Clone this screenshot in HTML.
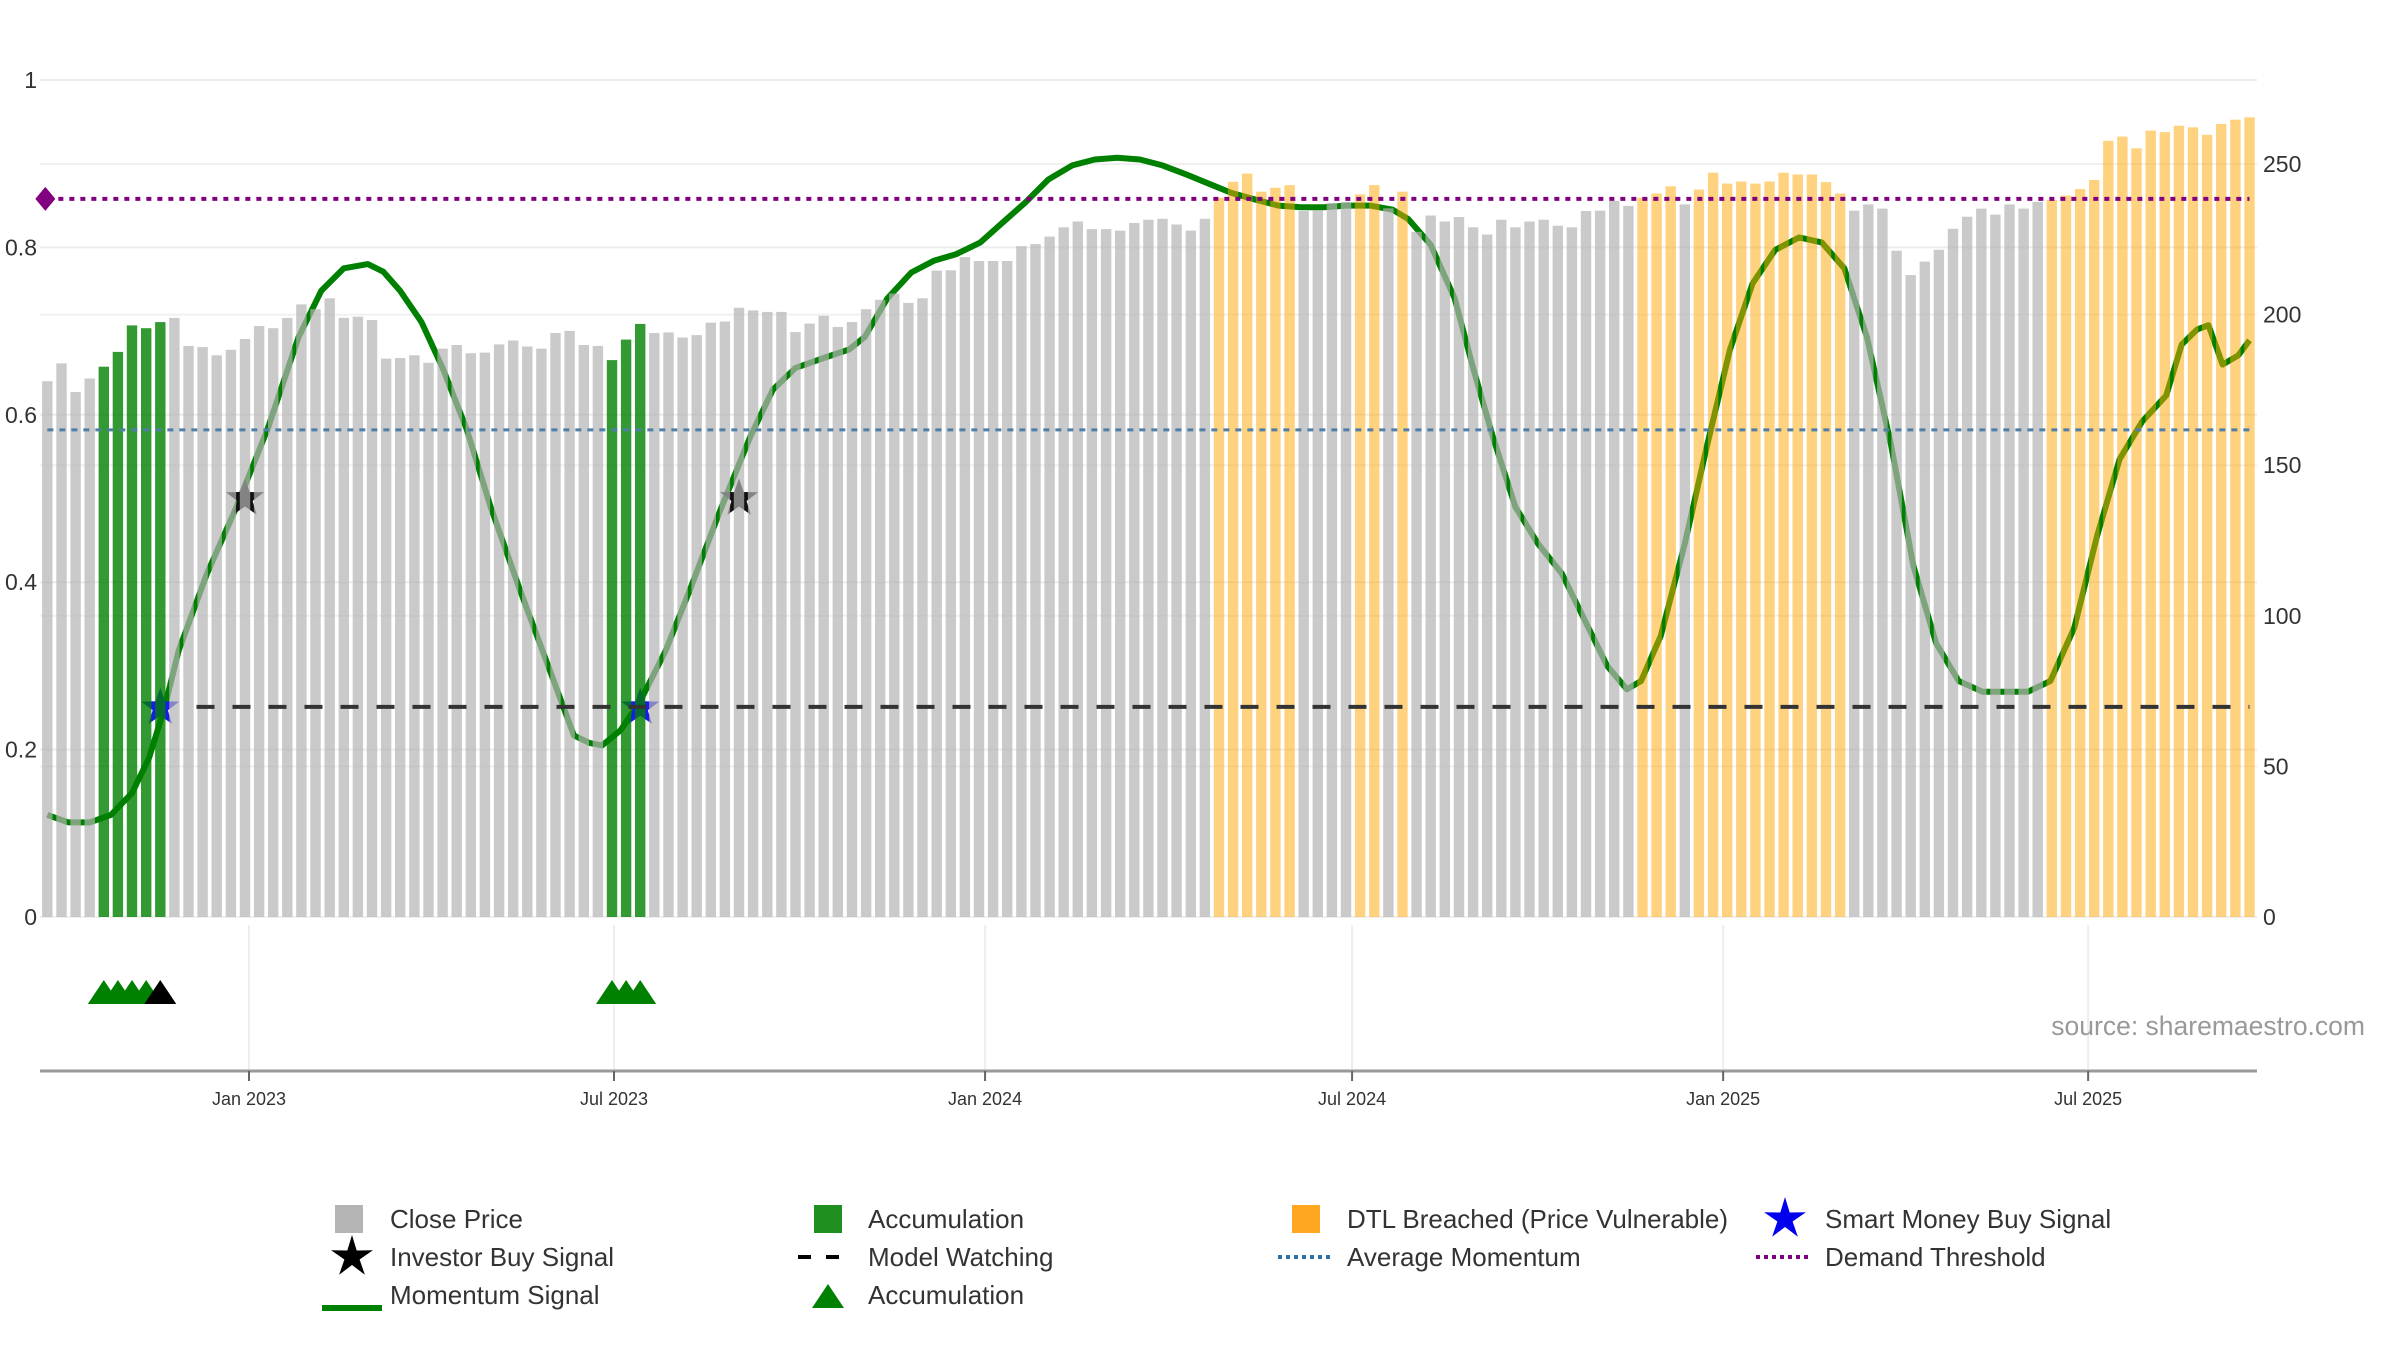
<!DOCTYPE html>
<html><head><meta charset="utf-8"><style>
html,body{margin:0;padding:0;background:#fff;}
svg{display:block;font-family:"Liberation Sans","DejaVu Sans",sans-serif;}
</style></head><body>
<svg id="chart" xmlns="http://www.w3.org/2000/svg" width="2400" height="1350" viewBox="0 0 2400 1350">
<g id="grid"></g>
<g id="lines"></g>
<g id="bars"></g>
<g id="refs"></g>
<g id="axes"></g>
<text x="2365" y="1035" text-anchor="end" font-size="26.5" fill="#999">source: sharemaestro.com</text>
<g id="legend" font-size="26" fill="#333">
  <g><rect x="335" y="1205" width="28" height="28" fill="#b4b4b4"/><text x="390" y="1228">Close Price</text></g>
  <g><rect x="814" y="1205" width="28" height="28" fill="#1f8f1f"/><text x="868" y="1228">Accumulation</text></g>
  <g><rect x="1292" y="1205" width="28" height="28" fill="#ffa81f"/><text x="1347" y="1228">DTL Breached (Price Vulnerable)</text></g>
  <g><polygon id="lgStarB" fill="#0000ee" points=""/><text x="1825" y="1228">Smart Money Buy Signal</text></g>
  <g><polygon id="lgStarK" fill="#000" points=""/><text x="390" y="1266">Investor Buy Signal</text></g>
  <g><line x1="798" y1="1257" x2="852" y2="1257" stroke="#000" stroke-width="4" stroke-dasharray="13,15"/><text x="868" y="1266">Model Watching</text></g>
  <g><line x1="1278" y1="1257" x2="1334" y2="1257" stroke="#2f6fa8" stroke-width="4" stroke-dasharray="4,4"/><text x="1347" y="1266">Average Momentum</text></g>
  <g><line x1="1756" y1="1257" x2="1810" y2="1257" stroke="#800080" stroke-width="4" stroke-dasharray="4,4"/><text x="1825" y="1266">Demand Threshold</text></g>
  <g><line x1="322" y1="1308" x2="382" y2="1308" stroke="#008000" stroke-width="6"/><text x="390" y="1304">Momentum Signal</text></g>
  <g><polygon points="828,1284 812,1308 844,1308" fill="#008000"/><text x="868" y="1304">Accumulation</text></g>
</g>
</svg>
<script>
// ---- data ----
const prices = [177.9,183.8,174.3,178.8,182.7,187.6,196.4,195.5,197.5,198.9,189.6,189.2,186.5,188.3,191.9,196.2,195.5,198.9,203.4,201.8,205.4,198.9,199.3,198.2,185.4,185.6,186.5,184.0,188.7,189.9,187.2,187.4,190.1,191.4,189.4,188.7,193.9,194.6,189.9,189.6,184.9,191.7,196.9,193.9,194.1,192.4,193.2,197.3,197.7,202.3,201.4,200.9,200.9,194.2,
197.0,199.6,195.9,197.5,201.8,204.9,207.0,203.9,205.4,214.6,214.7,219.1,217.8,217.8,217.8,222.7,223.4,225.9,229.0,230.9,228.4,228.4,227.9,230.4,231.5,231.8,229.9,227.9,231.8,238.8,244.1,246.8,240.8,242.1,243.0,234.4,234.7,237.1,237.4,239.9,243.0,235.3,240.8,227.5,232.9,230.9,232.4,229.0,226.6,231.5,229.0,230.9,231.5,229.5,229.0,234.4,
234.5,237.7,236.1,238.8,240.2,242.6,236.6,241.5,247.1,243.5,244.2,243.5,244.2,247.1,246.5,246.5,244.0,240.2,234.5,236.6,235.2,221.2,213.1,217.6,221.5,228.5,232.5,235.2,233.2,236.6,235.2,237.4,238.1,239.5,241.7,244.7,257.7,259.1,255.2,261.1,260.6,262.7,262.2,259.7,263.3,264.7,265.5];
const accumulationBars = [4,5,6,7,8,40,41,42];
const dtlBars = [83,84,85,86,87,88,93,94,96,113,114,115,117,118,119,120,121,122,123,124,125,126,127,142,143,144,145,146,147,148,149,150,151,152,153,154,155,156];
const momentumIdx = [0,1.5,3,4.5,6,7.2,8.3,9.3,11.3,13.4,15.6,17.8,19.4,21,22.7,23.8,25,26.5,28,29.7,31.4,33.5,35.7,37.3,38.4,39.3,40.6,42,43.8,45.5,47.6,49.8,51.4,53,55.2,56.8,57.9,59.5,61.2,62.8,64.4,66.1,67.7,69.3,70.9,72.6,74.2,75.8,77.4,79,80.7,82.3,83.9,85.6,87.2,88.8,90.4,92,93.7,95.3,96.4,98,99.7,101,102.4,104,105.6,107.3,108.9,110.5,111.9,112.9,114.3,116,117.6,119.2,120.8,122.4,124.1,125.7,127.3,128.9,130.6,132.2,133.8,135.4,137.1,138.7,140.3,141.9,143.6,145.2,146.8,148.4,150.1,151.2,152.3,153.1,154.1,155.2,156];
const momentumVal = [0.122,0.113,0.113,0.122,0.148,0.19,0.25,0.318,0.41,0.49,0.583,0.693,0.748,0.775,0.78,0.771,0.748,0.711,0.656,0.583,0.49,0.39,0.29,0.217,0.208,0.205,0.223,0.258,0.318,0.39,0.483,0.574,0.63,0.656,0.669,0.678,0.693,0.739,0.77,0.784,0.792,0.806,0.83,0.854,0.881,0.898,0.905,0.907,0.905,0.898,0.887,0.876,0.865,0.857,0.85,0.848,0.848,0.85,0.85,0.845,0.834,0.803,0.739,0.656,0.574,0.49,0.446,0.41,0.355,0.3,0.272,0.282,0.336,0.446,0.565,0.678,0.757,0.797,0.812,0.806,0.775,0.693,0.565,0.419,0.327,0.282,0.269,0.269,0.269,0.282,0.346,0.455,0.547,0.592,0.623,0.684,0.702,0.707,0.66,0.671,0.689];
const investorBuyIdx = [14,49];
const investorBuyVal = [0.5,0.5];
const smartMoneyIdx = [8,42];
const smartMoneyVal = [0.25,0.25];
const accMarkerIdx = [4,5,6,7,40,41,42];
const blackMarkerIdx = [8];
const demandThreshold = 0.858;
const averageMomentum = 0.582;
const modelWatching = 0.251;
const leftTicks = [0,0.2,0.4,0.6,0.8,1];
const leftTickLabels = ["0","0.2","0.4","0.6","0.8","1"];
const rightTicks = [0,50,100,150,200,250];
const dateTickLabels = ["Jan 2023","Jul 2023","Jan 2024","Jul 2024","Jan 2025","Jul 2025"];
const dateTickDays = [0,181,365,547,731,912];

// ---- scales ----
const NS = "http://www.w3.org/2000/svg";
const X0 = 249, PXDAY = 2.0166, FIRST_DAY = -100;
const plotL = 40, plotR = 2257, yBase = 917;
function xDay(d){ return X0 + d*PXDAY; }
function xBar(i){ return xDay(FIRST_DAY + 7*i); }
function yL(v){ return yBase - v*837; }
function yR(p){ return yBase - p*3.012; }
function mk(tag, attrs, parent){ const e=document.createElementNS(NS,tag); for(const k in attrs) e.setAttribute(k,attrs[k]); parent.appendChild(e); return e; }
function starPts(cx,cy,R,r){ let p=[]; for(let k=0;k<10;k++){ const a=-Math.PI/2+k*Math.PI/5; const rr=k%2?r:R; p.push((cx+rr*Math.cos(a)).toFixed(1)+","+(cy+rr*Math.sin(a)).toFixed(1)); } return p.join(" "); }

const grid=document.getElementById('grid'), lines=document.getElementById('lines'), bars=document.getElementById('bars'), refs=document.getElementById('refs'), axes=document.getElementById('axes');

leftTicks.forEach(v=>{ const g=mk('line',{x1:plotL,x2:plotR,y1:yL(v),y2:yL(v),stroke:'#ececec','stroke-width':2},grid);

 });
rightTicks.forEach(p=>{ const g=mk('line',{x1:plotL,x2:plotR,y1:yR(p),y2:yR(p),stroke:'#f0f0f0','stroke-width':2},grid);

 });
dateTickDays.forEach(d=>{ const g=mk('line',{x1:xDay(d),x2:xDay(d),y1:925,y2:1071,stroke:'#eeeeee','stroke-width':2},grid);

 });

const mp = momentumIdx.map((t,k)=>xBar(t).toFixed(1)+","+yL(momentumVal[k]).toFixed(1)).join(" ");
const ml = mk('polyline',{points:mp,fill:'none',stroke:'#008000','stroke-width':6,'stroke-linejoin':'round'},lines);



investorBuyIdx.forEach((t,k)=>{ const s=mk('polygon',{points:starPts(xBar(t),yL(investorBuyVal[k]),20,8),fill:'#111'},lines);

 });
smartMoneyIdx.forEach((t,k)=>{ const s=mk('polygon',{points:starPts(xBar(t),yL(smartMoneyVal[k]),20,8),fill:'#1a1aee'},lines);

 });

prices.forEach((p,i)=>{
  let fill='#b4b4b4', op=0.7;
  if(accumulationBars.includes(i)){ fill='#008000'; op=0.8; }
  else if(dtlBars.includes(i)){ fill='#ffa500'; op=0.5; }
  const b=mk('rect',{x:(xBar(i)-5.2).toFixed(1),y:yR(p).toFixed(1),width:10.4,height:(yBase-yR(p)).toFixed(1),fill:fill,'fill-opacity':op},bars);
  
  
});

const xs=xBar(0)-16, xe=xBar(prices.length-1);
const dl=mk('line',{x1:xs+16,x2:xe,y1:yL(demandThreshold),y2:yL(demandThreshold),stroke:'#800080','stroke-width':4,'stroke-dasharray':'5,6'},refs);


const dm=mk('polygon',{points:`${xs+4},${yL(demandThreshold)} ${xs+14},${yL(demandThreshold)-12} ${xs+24},${yL(demandThreshold)} ${xs+14},${yL(demandThreshold)+12}`,fill:'#800080'},refs);


const al=mk('line',{x1:xs+16,x2:xe,y1:yL(averageMomentum),y2:yL(averageMomentum),stroke:'#4f7fa6','stroke-width':3,'stroke-dasharray':'6,6'},refs);


const wl=mk('line',{x1:xBar(10)+8,x2:xe,y1:yL(modelWatching),y2:yL(modelWatching),stroke:'#333','stroke-width':4,'stroke-dasharray':'18,18'},refs);



accMarkerIdx.forEach(t=>{ const x=xBar(t); const m=mk('polygon',{points:`${x},${980} ${x-16},${1004} ${x+16},${1004}`,fill:'#008000'},refs);

 });
blackMarkerIdx.forEach(t=>{ const x=xBar(t); const m=mk('polygon',{points:`${x},${980} ${x-16},${1004} ${x+16},${1004}`,fill:'#000'},refs);

 });

const ax=mk('line',{x1:plotL,x2:plotR,y1:1071,y2:1071,stroke:'#999','stroke-width':3},axes);


dateTickDays.forEach((d,k)=>{ const x=xDay(d);
  const t=mk('line',{x1:x,x2:x,y1:1071,y2:1081,stroke:'#666','stroke-width':2},axes);
  
  
  const l=mk('text',{x:x,y:1105,'text-anchor':'middle','font-size':18,fill:'#333'},axes); l.textContent=dateTickLabels[k];
  
  
});
leftTicks.forEach((v,k)=>{ const l=mk('text',{x:37,y:yL(v)+8,'text-anchor':'end','font-size':23,fill:'#333'},axes); l.textContent=leftTickLabels[k];
  
   });
rightTicks.forEach(p=>{ const l=mk('text',{x:2263,y:yR(p)+8,'text-anchor':'start','font-size':23,fill:'#333'},axes); l.textContent=String(p);
  
   });

document.getElementById('lgStarB').setAttribute('points',starPts(1785,1219,22,8));
document.getElementById('lgStarK').setAttribute('points',starPts(352,1257,22,8));
</script>
</body></html>
